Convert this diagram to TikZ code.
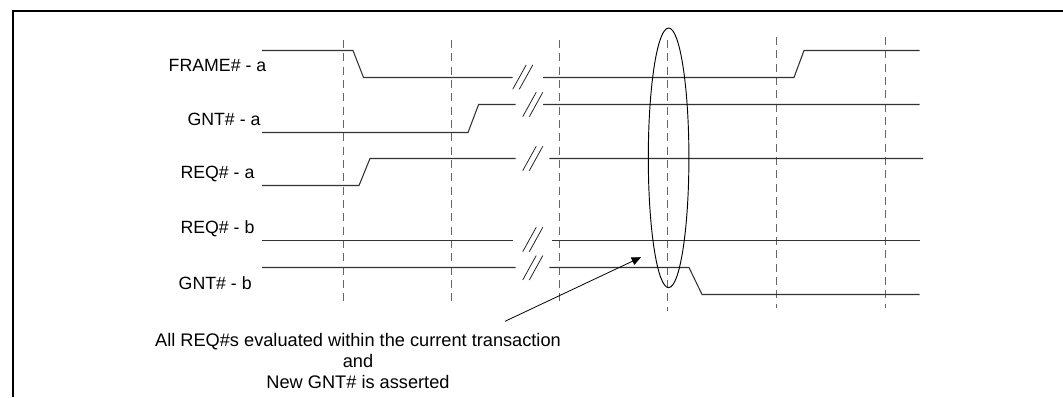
\documentclass[tikz,border=0pt]{standalone}
\usepackage{fontspec}
\setmainfont{Liberation Sans}
\usetikzlibrary{positioning,calc,arrows.meta}

\begin{document}
\begin{tikzpicture}[x=0.75pt,y=-0.75pt,
				every node/.style={signal},
				signal/.style={inner sep=0pt,outer sep=0pt,font=\fontsize{13.3pt}{16.1pt}\selectfont},
				note/.style={align=center,font=\fontsize{13.65pt}{16.1pt}\selectfont},
				wave/.style={line width=0.8pt,draw=black!80},
				tick/.style={line width=1pt,draw=black!60,dash pattern=on 6pt off 4pt},
				breakmark/.style={line width=0.6pt,draw=black!85}]
				\useasboundingbox (0,0) rectangle (1063,397);
				\draw[line width=1.6pt] (12.7,397) -- (12.7,11) -- (1063,11);

				\node (FA) at (217.5,65)    {FRAME\# - a};
				\node (GA) at (224,119)     {GNT\# - a};
				\node (RA) at (217.5,173.7) {REQ\# - a};
				\node (RB) at (217.5,228.7) {REQ\# - b};
				\node (GB) at (215.2,282.7) {GNT\# - b};
				\node (NOTE) [note] at (358,361) {All REQ\#s evaluated within the current transaction\\and\\New GNT\# is asserted};

				\foreach \x/\yt/\yb in {343.5/40/303,451.5/40/303,559.5/40/303,667.5/40/311,776.5/37/308,885.5/37/308}
					\draw[tick] (\x,\yt) -- (\x,\yb);

				\draw[wave] (262,50.5) -- (353,50.5) -- (363.5,77.5) -- (512.7,77.5) (543,77.5) -- (794,77.5) -- (804,50.5) -- (919.5,50.5);
				\draw[wave] (262,132.5) -- (468,132.5) -- (478.6,104.5) -- (515.7,104.5) (543,104.5) -- (919.5,104.5);
				\draw[wave] (262,185.5) -- (359,185.5) -- (370,158.5) -- (515.7,158.5) (549.3,158.5) -- (923,158.5);
				\draw[wave] (262,240.5) -- (512.7,240.5) (552.3,240.5) -- (919.5,240.5);
				\draw[wave] (262,267.5) -- (515.7,267.5) (549.3,267.5) -- (689,267.5) -- (702,294.5) -- (919.5,294.5);

				% break marks
				\foreach \x/\y in {512.7/89.3,522.7/116.7,522.7/170.7,522.7/251.7,522.7/280}{
					\draw[breakmark] (\x,\y) -- ++(13.5,-24.4);
					\draw[breakmark] (\x+6.6,\y) -- ++(13.5,-24.4);
				}

				\draw[line width=0.7pt] (668.6,157.8) ellipse (20.3 and 129.8);

				\coordinate (TAIL) at (505,321.3);
				\coordinate (TIP) at (641,257.2);
				\draw[line width=0.6pt,-{Triangle[length=7pt,width=6pt]}] (TAIL) -- (TIP);
			\end{tikzpicture}
\end{document}
